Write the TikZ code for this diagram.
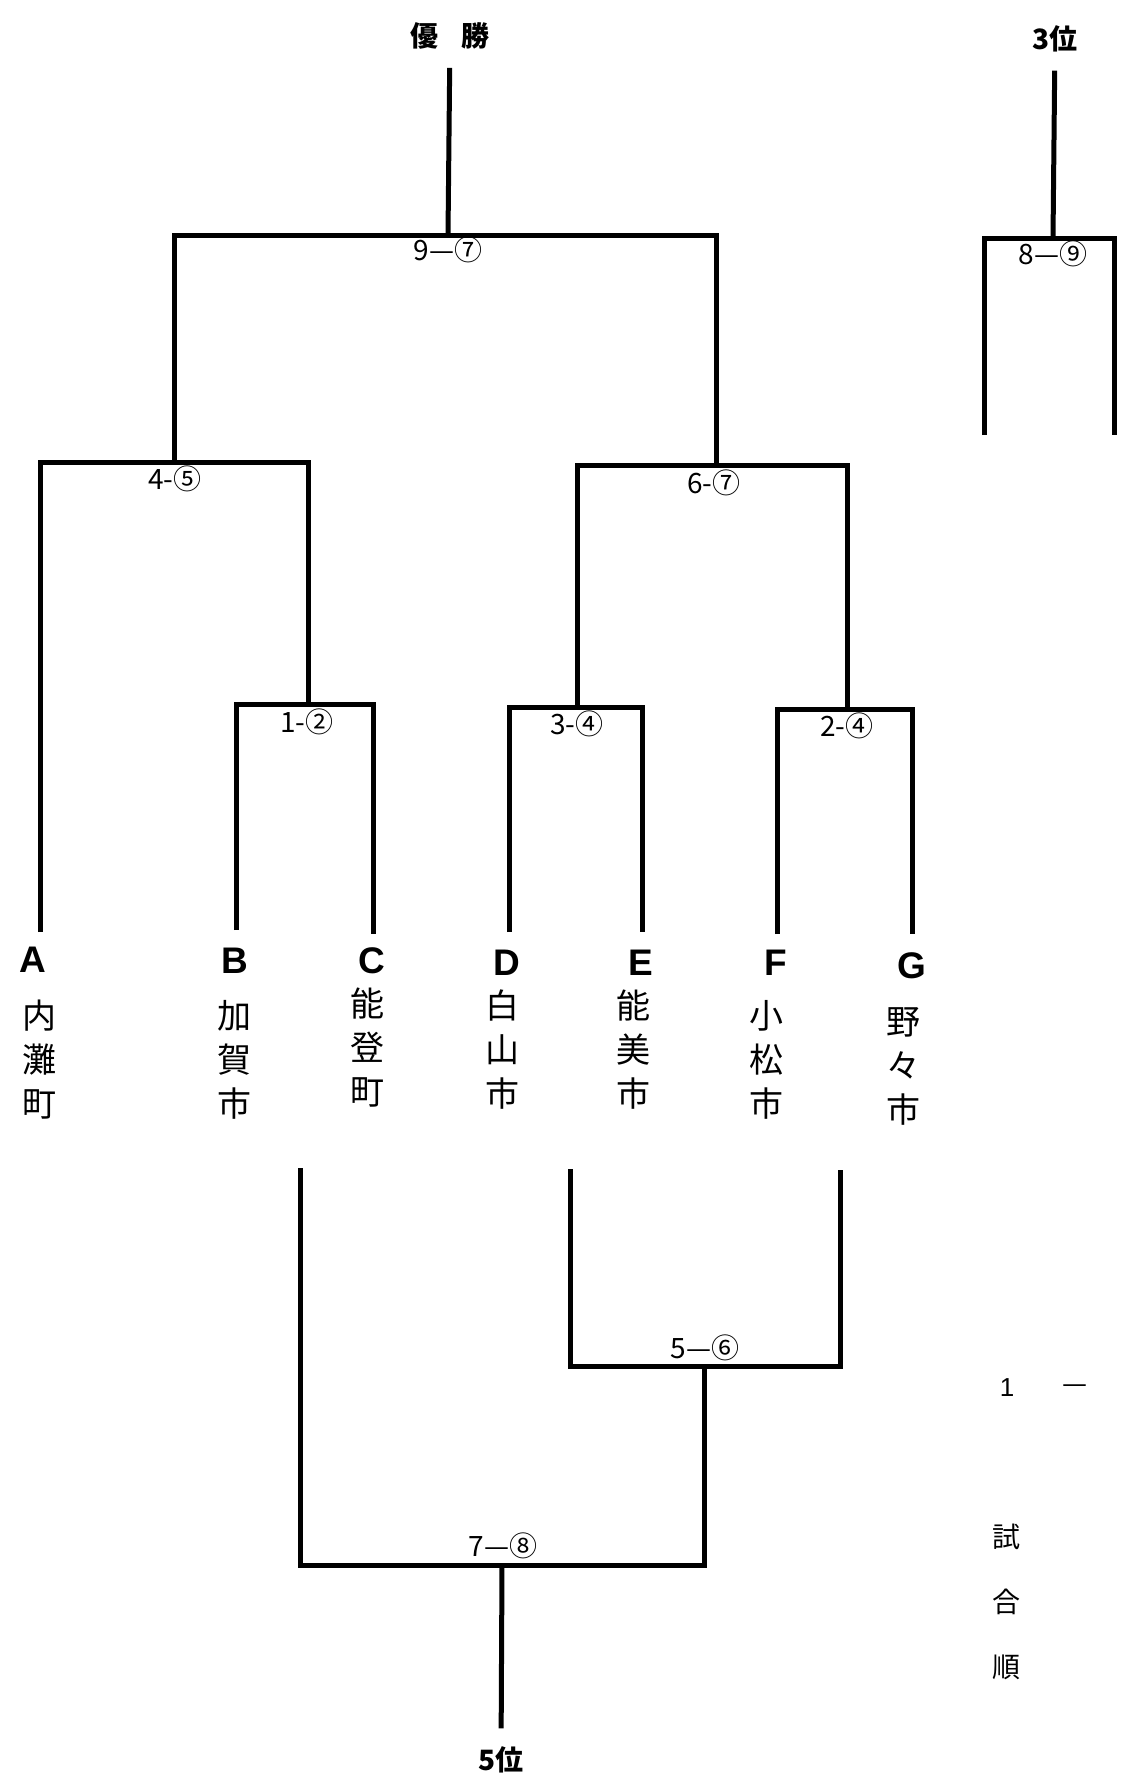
\documentclass[tikz,border=0pt]{standalone}
\usepackage{fontspec}
\setmainfont{Liberation Sans}
\newfontfamily\jpfont{Noto Sans CJK JP}
\begin{document}
\begin{tikzpicture}[x=0.5pt,y=-0.5pt,
    bline/.style={line width=2.5pt},
    score/.style={font=\jpfont\fontsize{14}{16}\selectfont, inner sep=0pt},
    team/.style={font=\bfseries\fontsize{18.5}{20}\selectfont, inner sep=0pt},
    town/.style={font=\jpfont\fontsize{17}{22}\selectfont, align=center, inner sep=0pt},
    rank/.style={font=\jpfont\bfseries\fontsize{14}{16}\selectfont, inner sep=0pt}]
    \useasboundingbox (0,0) rectangle (1129,1788);
    % line ends above the teams
    \coordinate (tA) at (40,932);
    \coordinate (tB) at (236,930);
    \coordinate (tC) at (373,934);
    \coordinate (tD) at (509,932);
    \coordinate (tE) at (642,932);
    \coordinate (tF) at (777,934);
    \coordinate (tG) at (912,934);
    % junctions
    \coordinate (j12) at (308,704);
    \coordinate (j34) at (577,707);
    \coordinate (j24) at (847,709);
    \coordinate (j45) at (174,462);
    \coordinate (j67) at (716,465);
    \coordinate (j97) at (448,235);
    \node[rank] (win) at (450,36) {優\hspace{0.8em}勝};
    \draw[bline] (tB) |- (j12) -| (tC);
    \draw[bline] (tD) |- (j34) -| (tE);
    \draw[bline] (tF) |- (j24) -| (tG);
    \draw[bline] (tA) |- (j45) -| (j12);
    \draw[bline] (j34) |- (j67) -| (j24);
    \draw[bline] (j45) |- (j97) -| (j67);
    \draw[bline, shorten <=9pt] (win) -- (j97);
    \node[score] (s97) at (448,250) {9—⑦};
    \node[score] (s45) at (175,479) {4-⑤};
    \node[score] (s67) at (714,483) {6-⑦};
    \node[score] (s12) at (307,722) {1-②};
    \node[score] (s34) at (577,724) {3-④};
    \node[score] (s24) at (847,726) {2-④};
    % teams
    \node[team] (A) at (33,960) {A};
    \node[team] (B) at (235,961) {B};
    \node[team] (C) at (372,961) {C};
    \node[team] (D) at (507,963) {D};
    \node[team] (E) at (641,963) {E};
    \node[team] (F) at (776,963) {F};
    \node[team] (G) at (912,966) {G};
    \node[town] (nA) at (39,1060) {内\\灘\\町};
    \node[town] (nB) at (234,1060) {加\\賀\\市};
    \node[town] (nC) at (367,1048) {能\\登\\町};
    \node[town] (nD) at (502,1050) {白\\山\\市};
    \node[town] (nE) at (633,1050) {能\\美\\市};
    \node[town] (nF) at (766,1060) {小\\松\\市};
    \node[town] (nG) at (903,1066) {野\\々\\市};
    % 3rd place
    \coordinate (l3) at (984,435);
    \coordinate (r3) at (1114,435);
    \coordinate (j89) at (1053,238);
    \node[rank] (third) at (1055,39) {3位};
    \draw[bline] (l3) |- (j89) -| (r3);
    \draw[bline, shorten <=9pt] (third) -- (j89);
    \node[score] (s89) at (1053,254) {8—⑨};
    % 5th place
    \coordinate (c5) at (300,1168);
    \coordinate (d5) at (570,1169);
    \coordinate (g5) at (840,1170);
    \coordinate (j56) at (704,1366);
    \coordinate (j78) at (502,1565);
    \node[rank] (fifth) at (501,1760) {5位};
    \draw[bline] (d5) |- (j56) -| (g5);
    \draw[bline] (c5) |- (j78) -| (j56);
    \draw[bline, shorten >=9pt] (j78) -- (fifth);
    \node[score] (s56) at (705,1348) {5—⑥};
    \node[score] (s78) at (503,1546) {7—⑧};
    % order of matches
    \node[font=\fontsize{13}{15}\selectfont, inner sep=0pt] (o1) at (1007,1388) {1};
    \node[score] (od) at (1075,1389) {—};
    \node[score] (k1) at (1006,1537) {試};
    \node[score] (k2) at (1006,1602) {合};
    \node[score] (k3) at (1006,1667) {順};
\end{tikzpicture}
\end{document}
